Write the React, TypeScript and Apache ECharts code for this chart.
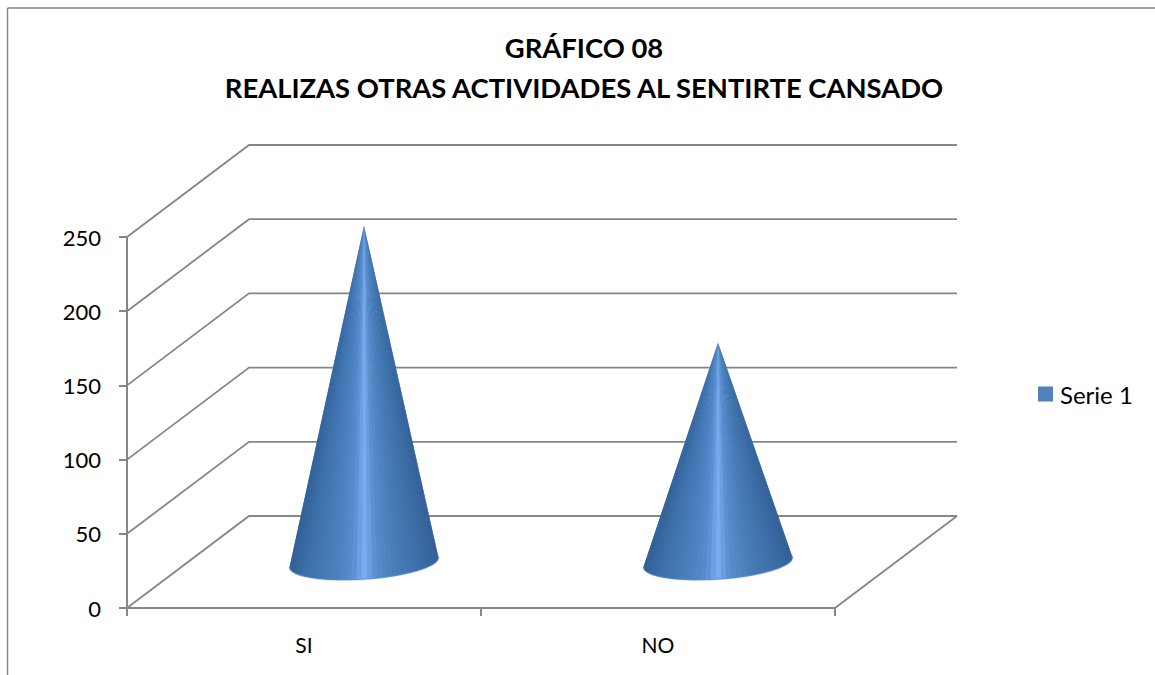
import React, { useEffect, useRef } from "react";
import * as echarts from "echarts";

const categories = ["SI", "NO"];
const serie1 = [227, 148];
const tickValues = [0, 50, 100, 150, 200, 250];
const seriesName = "Serie 1";
const titleText = "GRÁFICO 08\nREALIZAS OTRAS ACTIVIDADES AL SENTIRTE CANSADO";

const GRID = { left: 127, top: 237, width: 708, height: 371 };
const DEPTH = { x: 122, y: -92 };
const LINE = "#868686";
const FONT = "Lato, 'Noto Sans', sans-serif";
const SHADE: [number, number[]][] = [
  [0, [50, 96, 150]],
  [0.12, [62, 113, 172]],
  [0.3, [74, 128, 190]],
  [0.42, [88, 142, 208]],
  [0.5, [120, 174, 240]],
  [0.58, [88, 142, 205]],
  [0.72, [72, 124, 184]],
  [0.9, [60, 108, 164]],
  [1, [50, 96, 150]],
];

function shade(u: number) {
  for (let i = 1; i < SHADE.length; i++) {
    if (u <= SHADE[i][0]) {
      const [u0, c0] = SHADE[i - 1];
      const [u1, c1] = SHADE[i];
      const t = (u - u0) / (u1 - u0);
      const c = c0.map((v, k) => Math.round(v + (c1[k] - v) * t));
      return `rgb(${c[0]},${c[1]},${c[2]})`;
    }
  }
  return "rgb(50,96,150)";
}

const renderWall = (params: any, api: any) => {
  const cs = params.coordSys;
  const y = api.coord([0, api.value(1)])[1];
  const x0 = cs.x;
  const x1 = cs.x + cs.width;
  const children: any[] = [
    {
      type: "polyline",
      shape: { points: [[x0, y], [x0 + DEPTH.x, y + DEPTH.y], [x1 + DEPTH.x, y + DEPTH.y]] },
      style: { stroke: LINE, lineWidth: 1.8, fill: "none" },
    },
  ];
  if (api.value(1) === 0) {
    children.push({
      type: "line",
      shape: { x1: x1, y1: y, x2: x1 + DEPTH.x, y2: y + DEPTH.y },
      style: { stroke: LINE, lineWidth: 1.8 },
    });
  }
  return { type: "group", children };
};

const renderCone = (_params: any, api: any) => {
  const top = api.coord([api.value(0), api.value(1)]);
  const base = api.coord([api.value(0), 0]);
  const band = api.size([1, 0])[0];
  const cx = base[0] + 60;
  const cy = base[1] - 45.5;
  const apex = [top[0] + 60, top[1] - 45.5];
  const ax = band * 0.21;
  const ay = -5.5;
  const bx = 3;
  const by = 16.6;
  const N = 48;
  const pt = (t: number) => [cx + ax * Math.cos(t) + bx * Math.sin(t), cy + ay * Math.cos(t) + by * Math.sin(t)];
  const start = -0.12;
  const span = Math.PI + 0.24;
  const arc: number[][] = [];
  for (let i = 0; i <= 120; i++) arc.push(pt(start + (span * i) / 120));
  const stops = SHADE.map(([offset, c]) => ({ offset, color: `rgb(${c[0]},${c[1]},${c[2]})` }));
  const children: any[] = [
    {
      type: "polygon",
      shape: { points: [apex, ...arc] },
      style: { fill: new echarts.graphic.LinearGradient(0, 0, 1, 0, stops) },
    },
  ];
  for (let i = 0; i < N; i++) {
    const p0 = pt(start + (span * i) / N);
    const p1 = pt(start + (span * (i + 1)) / N);
    const u = ((p0[0] + p1[0]) / 2 - (cx - ax)) / (2 * ax);
    children.push({
      type: "polygon",
      shape: { points: [apex, p0, p1] },
      style: { fill: shade(Math.max(0, Math.min(1, u))) },
    });
  }
  children.push({
    type: "polyline",
    shape: { points: arc },
    style: { stroke: "rgba(84,144,220,0.55)", lineWidth: 1.5, fill: "none" },
  });
  return { type: "group", children };
};

export default function App() {
  const ref = useRef<HTMLDivElement>(null);
  useEffect(() => {
    document.body.style.margin = "0";
    const chart = echarts.init(ref.current!, undefined, { renderer: "svg" });
    chart.setOption({
      animation: false,
      backgroundColor: "#ffffff",
      title: {
        text: titleText,
        left: 579,
        top: 22,
        textAlign: "center",
        textStyle: { fontFamily: FONT, fontSize: 27.4, fontWeight: "bold", color: "#000", lineHeight: 40 },
      },
      legend: {
        left: 1033,
        top: 377,
        itemWidth: 15,
        itemHeight: 15,
        itemGap: 6,
        data: [{ name: seriesName, icon: "rect", itemStyle: { color: "#4f81bd" } }],
        textStyle: { fontFamily: FONT, fontSize: 24, color: "#000", padding: [0, 0, 0, 2] },
      },
      grid: GRID,
      xAxis: {
        type: "category",
        data: categories,
        boundaryGap: true,
        axisLine: { lineStyle: { color: LINE, width: 2 } },
        axisTick: { show: true, alignWithLabel: false, length: 8, lineStyle: { color: LINE, width: 2 } },
        axisLabel: { fontFamily: FONT, fontSize: 21, color: "#000", margin: 26 },
        splitLine: { show: false },
      },
      yAxis: {
        type: "value",
        min: 0,
        max: 250,
        interval: 50,
        axisLine: { show: true, lineStyle: { color: LINE, width: 2 } },
        axisTick: { show: true, length: 8, lineStyle: { color: LINE, width: 2 } },
        axisLabel: { fontFamily: FONT, fontSize: 22, color: "#000", margin: 26 },
        splitLine: { show: false },
      },
      graphic: [
        { type: "line", shape: { x1: 7.5, y1: 8, x2: 1155, y2: 8 }, style: { stroke: LINE, lineWidth: 1.5 } },
        { type: "line", shape: { x1: 7.5, y1: 8, x2: 7.5, y2: 675 }, style: { stroke: LINE, lineWidth: 1.5 } },
      ],
      series: [
        {
          type: "custom",
          name: "walls",
          renderItem: renderWall,
          silent: true,
          data: tickValues.map((v) => [0, v]),
          z: 1,
        },
        {
          type: "custom",
          name: seriesName,
          renderItem: renderCone,
          itemStyle: { color: "#4f81bd" },
          data: serie1.map((v, i) => [i, v]),
          z: 3,
        },
      ],
    });
    return () => chart.dispose();
  }, []);
  return <div ref={ref} style={{ position: "absolute", left: 0, top: 0, width: 1155, height: 675 }} />;
}
